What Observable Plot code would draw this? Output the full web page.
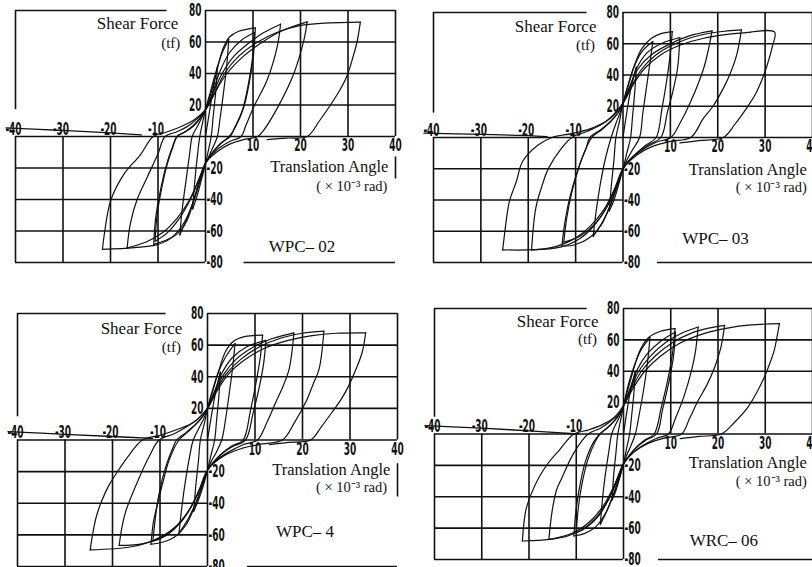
<!DOCTYPE html>
<html><head><meta charset="utf-8">
<script src="https://cdn.jsdelivr.net/npm/d3@7"></script>
<script src="https://cdn.jsdelivr.net/npm/@observablehq/plot@0.6"></script>
<style>
html,body{margin:0;padding:0;background:#fff;}
#wrap{position:relative;width:812px;height:567px;overflow:hidden;background:#fff;}
#wrap svg{position:absolute;}
</style></head><body><div id="wrap"></div>
<script>
// ---- tick values / grid ----
const gridX = [-40, -30, -20, -10, 0, 10, 20, 30, 40];
const gridY = [-80, -60, -40, -20, 0, 20, 40, 60, 80];
const xTickNeg = [-40, -30, -20, -10];
const xTickPos = [10, 20, 30, 40];
const yTickPos = [20, 40, 60, 80];
const yTickNeg = [-20, -40, -60, -80];
const yTitle = ["Shear Force", "(tf)"];
const xTitle = ["Translation Angle", "( × 10⁻³ rad)"];
const specimenNames = ["WPC– 02", "WPC– 03", "WPC– 4", "WRC– 06"];

// ---- hysteresis paths [angle, force] ----
const wpc02 = [[0,0],[0.8,15],[1.6,30],[2.5,44],
[2.2,30],[1.6,12],[1.2,0],[0.6,-9],[0,-17],[-0.9,-28],[-1.8,-38],[-2.7,-46],
[-2.3,-30],[-1.7,-12],[-1.2,0],[-0.6,9],[0,17],
[1,28],[2.2,41],[3.5,53],[4.9,61.6],
[4.5,46],[3.8,28],[3,10],[2.5,0],[1.4,-8],[0.5,-14],[0,-17],[-1.1,-28],[-2.4,-40],[-3.9,-52],[-5.4,-62.5],
[-4.9,-46],[-4.1,-28],[-3.3,-10],[-2.8,0],[-1.6,7],[-0.6,13],[0,17],
[1.2,28],[2.4,42],[3.6,55],[5,63],[7,66.8],[10.5,69],
[10.1,52],[9.2,34],[8,18],[6.3,6],[5,0],[3.4,-4],[1.8,-9],[0.6,-14],[0,-17],[-1.2,-28],[-2.6,-42],[-4,-54],[-6,-62],[-8.5,-66],[-10.9,-68.5],
[-10.5,-52],[-9.6,-36],[-8.4,-20],[-7,-7],[-6,0],[-4.2,3],[-2.4,7],[-1,12],[0,17],
[1.5,28],[3,41],[5,53],[7.5,61],[10.3,66],
[9.9,50],[9,33],[7.8,17],[6.2,6],[5.2,0],[3.5,-3.5],[1.9,-8.5],[0.7,-13.5],[0,-17],[-1.5,-28],[-3.2,-40],[-5.5,-52],[-8,-61],[-10.6,-66.5],
[-10.2,-50],[-9.3,-34],[-8.1,-18],[-6.8,-6],[-6,0],[-4.2,3.2],[-2.4,7.5],[-1,12.5],[0,17],
[1.5,27],[3.5,40],[6,51],[9,59],[12,65.5],[15.8,71.3],
[15.1,57],[13,36],[10.2,19],[8.5,7],[7.5,0],[5.2,-3],[3,-7],[1.2,-12],[0,-17],[-1.5,-28],[-3.5,-41],[-6,-52],[-9,-61],[-12.5,-67],[-16.5,-70.7],
[-15.8,-55],[-14.4,-40],[-12.3,-26],[-10,-11],[-8.5,0],[-6,3],[-3.5,7],[-1.5,12],[0,17],
[2,28],[4.5,40],[8,51],[12,60],[16,67],[21.4,72.8],
[20.7,61],[18.6,40],[15.4,19.6],[12.3,4.2],[11,0],[8,-2],[5,-5],[2.3,-10],[0,-17],[-1.5,-30],[-3,-45],[-5,-57],[-7.5,-65],[-10.5,-69],[-15,-70.5],[-21.7,-71.7],
[-21.2,-60],[-20,-41],[-17.2,-24],[-13.7,-11.6],[-11,0],[-8,3],[-5,6.5],[-2.2,11],[0,17],
[2,28],[4,40],[7,51],[11,60],[15,66],[20,70.5],[25,72],[32.6,72.6],
[31.9,60],[31,50],[29.8,38.6],[28.2,29],[26.3,20],[24,10],[21.4,0],[17,-1],[13,-2]];

const wpc03 = [[0,0],[0.8,16],[1.7,32],[2.8,45],
[2.5,30],[2,13],[1.6,0],[0.8,-10],[0,-20],[-0.9,-30],[-1.9,-40],[-2.9,-47],
[-2.5,-32],[-1.9,-14],[-1.5,0],[-0.7,11],[0,22],
[1,33],[2.3,45],[4,55],[6.3,61.4],
[5.7,48],[5,33],[4.2,16],[3.5,0],[2,-8],[0.8,-14.5],[0,-20],[-1.2,-31],[-2.6,-43],[-4.3,-54],[-6.3,-63.3],
[-5.7,-48],[-4.8,-30],[-3.6,-12],[-2.5,0],[-1.5,9],[-0.6,16],[0,22],
[1.2,34],[2.5,47],[4,57],[6,63.5],[8,66.5],[10.4,67.8],
[10,54],[9.2,36],[8.2,18],[7,0],[4.8,-5],[2.5,-11],[0.9,-16],[0,-20],[-1.3,-31],[-2.8,-44],[-4.6,-56],[-7,-64],[-10,-68.5],[-12.9,-69.7],
[-12.3,-55],[-11.2,-38],[-9.4,-19.6],[-7.8,-7],[-6.6,0],[-4.5,5],[-2.5,10.5],[-1,16],[0,22],
[1.5,33],[3,45],[5,54],[8,60],[12,64],
[11.5,44],[10.4,28],[9.4,16.6],[8,0],[5.5,-4.5],[3,-10],[1.1,-15.5],[0,-20],[-1.5,-32],[-3.3,-44],[-5.8,-55],[-9,-63],[-12.5,-67],
[-11.9,-52],[-10.8,-35],[-9.2,-18],[-7.7,-6],[-7,0],[-4.7,5],[-2.6,10.5],[-1,16],[0,22],
[1.5,33],[3.2,44],[6,53],[10,60],[14,65],[18.8,68.2],
[18,56],[17,44],[14.3,23],[12,9],[10.1,0],[7,-3],[4,-8],[1.5,-14],[0,-20],[-1.6,-32],[-3.5,-45],[-6,-56],[-9,-64.5],[-13,-70],[-19.3,-71.9],
[-18.4,-45],[-17,-30],[-15.7,-19.6],[-13,-7],[-10.8,0],[-7.5,4],[-4.5,8.5],[-2,14],[0,22],
[1.8,33],[4,44],[7,53],[11,60],[15,64.5],[20,67.5],[25,68.9],
[24,52.9],[22.5,40],[21.2,31.6],[19,20],[17,12.4],[14.3,0],[10,-2.5],[6,-6],[3,-11],[0,-20],[-1.8,-33],[-4,-46],[-7,-57],[-11,-66],[-16,-71],[-25.4,-71.9],
[-24.5,-50],[-24,-41],[-22.5,-28],[-21.2,-15.4],[-18,-5],[-15,0],[-10.8,2.5],[-7,5.5],[-3.5,10.5],[0,22],
[2,33],[4.5,44],[8,53],[12,59],[17,63.5],[22,66],[27,67.5],[32,67.4],
[31.5,58],[30.6,48],[29.6,39],[28,28],[26.1,18.8],[23.5,8],[21.2,0],[16,-2],[12,-3.5]];

const wpc4 = [[0,0],[0.8,15],[1.7,30],[2.7,43],
[2.4,28],[1.9,12],[1.5,0],[0.7,-10],[0,-19],[-0.9,-29],[-1.9,-38],[-2.9,-45],
[-2.5,-30],[-1.9,-13],[-1.5,0],[-0.7,10],[0,20],
[1,31],[2.3,43],[3.9,53],[5.8,61],
[5.3,46],[4.6,30],[3.8,13],[3,0],[1.8,-8],[0.7,-14],[0,-19],[-1.1,-29],[-2.5,-40],[-4.1,-50],[-6,-59],
[-5.5,-45],[-4.8,-29],[-3.8,-11],[-3,0],[-1.7,8],[-0.7,14],[0,20],
[1.2,32],[2.5,45],[3.8,56],[5.5,62.5],[8,65.5],[11.6,66.3],
[11.1,52],[10.2,36],[9,18],[7.5,0],[5,-4],[2.7,-9.5],[1,-15],[0,-19],[-1.2,-30],[-2.7,-42],[-4.4,-53],[-6.8,-61],[-9.3,-64.5],[-11.9,-65.9],
[-11.4,-52],[-10.9,-45],[-9.5,-28],[-8,-12],[-6,0],[-4.2,5],[-2.4,10],[-1,15],[0,20],
[1.5,31],[3,42],[5.2,52],[8.3,59],[12.3,63],
[11.8,48],[10.8,32],[9.6,17],[8,0],[5.4,-4],[2.9,-9],[1.1,-14.5],[0,-19],[-1.5,-30],[-3.2,-41],[-5.6,-52],[-8.5,-60],[-11.5,-64],
[-11,-50],[-10.2,-34],[-8.8,-17],[-7.3,-5],[-6.5,0],[-4.4,5],[-2.5,10],[-1,15],[0,20],
[1.5,30],[3.3,41],[6,51],[9.5,58.5],[13.5,64],[18.2,67.8],
[17.2,45],[15.9,34],[14.4,24],[12.5,11],[10.5,0],[7.5,-3],[4.5,-7.5],[1.8,-13],[0,-19],[-1.6,-31],[-3.6,-43],[-6.3,-54],[-9.5,-61.5],[-13.5,-65.5],[-18.6,-66.7],
[-18,-55],[-17.2,-45],[-14.4,-24],[-12.2,-10],[-10.2,0],[-7,4],[-4.3,8.5],[-1.8,14],[0,20],
[1.8,31],[4,42],[7,51],[11,59],[15.5,64.5],[20,67.5],[24.5,68.8],
[23.5,45],[22.2,35],[20.7,24],[18.3,11],[15.8,0],[11.5,-2.5],[7,-5.5],[3.5,-10],[0,-19],[-1.8,-32],[-4,-45],[-7,-55.5],[-11,-63],[-16,-67.5],[-24.7,-69.5],
[-23.5,-49.5],[-22.2,-38],[-20.7,-28.4],[-18.5,-18],[-16.5,-9.5],[-13.7,0],[-10,3],[-6.5,6.5],[-3,11],[0,20],
[2,31],[4.5,42],[8,51],[12,58],[17,63],[22,66],[27,67.5],[33.3,67.8],
[32.6,55.8],[31.3,45],[29.8,34.7],[28.2,26],[26.3,17.9],[24,8.5],[21.7,0],[17,-1.5],[13,-3]];

const wrc06 = [[0,0],[0.7,14],[1.5,28],[2.5,40],
[2.2,26],[1.7,11],[1.3,0],[0.6,-10],[0,-19],[-0.8,-28],[-1.6,-36],[-2.4,-42],
[-2.1,-27],[-1.6,-12],[-1.2,0],[-0.6,9],[0,18],
[0.9,30],[2.1,42],[3.6,53],[5.6,61.4],
[5.1,46],[4.3,29],[3.3,12],[2.5,0],[1.5,-8],[0.6,-14],[0,-19],[-1,-29],[-2.2,-39],[-3.5,-49],[-4.9,-57.6],
[-4.5,-43],[-3.9,-27],[-3.1,-11],[-2.5,0],[-1.5,7],[-0.6,12.5],[0,18],
[1.1,30],[2.3,43],[3.6,54],[5.3,61.5],[7.8,65.5],[10.9,67.2],
[10.4,52],[9.4,35],[8,17],[6.5,0],[4.4,-4],[2.4,-9.5],[0.9,-15],[0,-19],[-1.1,-29],[-2.4,-41],[-3.9,-51],[-6,-59.5],[-8.3,-63.5],[-10.5,-65],
[-10.1,-50],[-9.3,-34],[-8,-17],[-6.3,-5],[-5,0],[-3.4,4],[-1.9,8.5],[-0.8,13],[0,18],
[1.4,29],[2.9,41],[5,51],[7.8,59],[11,65],
[10.6,50],[9.6,33],[8.3,16],[7,0],[4.7,-4],[2.6,-9],[1,-14.5],[0,-19],[-1.4,-30],[-3,-41],[-5.2,-52],[-7.8,-59.5],[-10,-63],
[-9.6,-48],[-8.8,-32],[-7.5,-16],[-6,-5],[-5,0],[-3.4,4],[-1.9,8.5],[-0.8,13],[0,18],
[1.5,29],[3.2,40],[5.8,50],[9,58.5],[12.5,64.5],[15.8,68.2],
[15.2,52],[14.4,40.5],[12.8,24],[11,10],[9.5,0],[6.8,-3],[4,-7.5],[1.6,-13],[0,-19],[-1.5,-30],[-3.3,-42],[-5.7,-53],[-8.5,-60.5],[-11.8,-65],[-15.8,-67.2],
[-15.1,-49],[-14.2,-36],[-13,-27.7],[-10.5,-12],[-7.5,0],[-5,3.5],[-2.8,8],[-1.1,12.5],[0,18],
[1.7,29],[3.8,40],[6.8,50],[10.5,58.5],[14.5,64.5],[18,67.5],[21.4,69.3],
[20.6,55],[19.3,42.6],[17.6,31],[15.8,21.3],[14,10],[12.3,0],[8.8,-2.5],[5.2,-6],[2.2,-11.5],[0,-19],[-1.7,-31],[-3.7,-43],[-6.5,-54],[-10,-62],[-14.5,-66.5],[-21.4,-68.2],
[-20.7,-49],[-19.5,-38],[-17.9,-27.7],[-15.8,-18],[-13.7,-10.7],[-10.5,0],[-7.5,2.5],[-4.8,5.5],[-2.2,10],[0,18],
[2,29],[4.5,40],[8,50],[12,58],[17,64],[22,67.5],[27,69.5],[33,70.4],
[32.5,62],[31.9,53.3],[30.9,44.5],[29.8,36.2],[28.2,26.5],[26.3,17],[23.5,7.5],[20.7,0],[16,-1.5],[12,-3]];

// near-zero residual branch drawn toward -40
const tail02 = [[-42,5.5],[-30,3.8],[-20,2.3],[-13.5,1]];
const tail03 = [[-42,2.8],[-30,2],[-20,1.2],[-16,0.6]];
const tail4 = [[-42,5.3],[-30,3.6],[-20,2.2],[-11.6,1]];
const tail06 = [[-42,5.3],[-30,3.7],[-20,2],[-9.5,0]];

const serif = "Liberation Serif";
const ink = "#111";

const panels = [
  {name: specimenNames[0], data: wpc02, tail: tail02, left: 0, top: 0, width: 406, height: 284, ml: 15, mr: 11, mt: 10, mb: 22,
   sf: [-5.7, 71.5], tf: [-5.3, 59], ta: [38.5, -19], rad: [38.3, -31.6], nm: [13.3, -69.6], topEnd: -8.1, leftEnd: 17, botStart: 8.1, rightSeg: [-13, -27]},
  {name: specimenNames[1], data: wpc03, tail: tail03, left: 406, top: 0, width: 420, height: 284, ml: 27, mr: 14, mt: 12, mb: 22,
   sf: [-5.6, 71.2], tf: [-5.9, 59.4], ta: [38.8, -20.8], rad: [38.8, -32], nm: [12.5, -64.4], topEnd: -7.6, leftEnd: 15.6, botStart: 7.3, rightSeg: null},
  {name: specimenNames[2], data: wpc4, tail: tail4, left: 0, top: 284, width: 406, height: 284, ml: 17, mr: 9, mt: 29, mb: 2,
   sf: [-5.3, 70.7], tf: [-5.6, 58.9], ta: [38.5, -18.6], rad: [37.8, -30], nm: [14.4, -57.9], topEnd: -8.7, leftEnd: 14.7, botStart: 8.4, rightSeg: [-15, -36]},
  {name: specimenNames[3], data: wrc06, tail: tail06, left: 406, top: 284, width: 420, height: 284, ml: 28, mr: 14, mt: 24, mb: 9,
   sf: [-5.3, 71.6], tf: [-5.6, 60.6], ta: [38.8, -18.1], rad: [38.8, -30.4], nm: [14, -68], topEnd: -7.7, leftEnd: 10.7, botStart: 7.4, rightSeg: null}
];

// split a continuous path into branches at its load peaks (sharp reversals)
function branches(path) {
  const out = [];
  let seg = 0;
  path.forEach((d, i) => {
    out.push({x: d[0], y: d[1], seg});
    const prev = path[i - 1], next = path[i + 1];
    if (prev && next && Math.abs(d[1]) > 30 && Math.abs(d[1]) >= Math.abs(prev[1]) && Math.abs(d[1]) >= Math.abs(next[1])) {
      seg++;
      out.push({x: d[0], y: d[1], seg});
    }
  });
  return out;
}

const wrap = document.getElementById("wrap");
const gs = {stroke: ink, strokeWidth: 1.6};
const tickFont = {fontFamily: "DejaVu Sans", fontWeight: "bold", fontSize: 18, fill: ink};

for (const p of panels) {
  const svg = Plot.plot({
    width: p.width, height: p.height,
    marginLeft: p.ml, marginRight: p.mr, marginTop: p.mt, marginBottom: p.mb,
    style: {background: "transparent", overflow: "visible"},
    x: {domain: [-40, 40], axis: null},
    y: {domain: [-80, 80], axis: null},
    marks: [
      Plot.ruleX(gridX.filter(d => d >= 0), {y1: 0, y2: 80, ...gs}),
      Plot.ruleY(gridY.filter(d => d >= 0), {x1: 0, x2: 40, ...gs}),
      Plot.ruleX(gridX.filter(d => d <= 0), {y1: -80, y2: 0, ...gs}),
      Plot.ruleY(gridY.filter(d => d <= 0), {x1: -40, x2: 0, ...gs}),
      Plot.ruleY([80], {x1: -40, x2: p.topEnd, ...gs}),
      Plot.ruleX([-40], {y1: p.leftEnd, y2: 80, ...gs}),
      Plot.ruleY([-80], {x1: p.botStart, x2: 40, ...gs}),
      p.rightSeg ? Plot.ruleX([40], {y1: p.rightSeg[0], y2: p.rightSeg[1], ...gs}) : null,
      Plot.line(p.tail, {x: d => d[0], y: d => d[1], curve: "catmull-rom", stroke: ink, strokeWidth: 1.3}),
      Plot.line(branches(p.data), {x: "x", y: "y", z: "seg", curve: "catmull-rom", stroke: ink, strokeWidth: 1.2}),
      Plot.text(yTickPos, {x: 0, y: d => d, text: d => String(d), textAnchor: "end", dx: -4, ...tickFont}),
      Plot.text(yTickNeg, {x: 0, y: d => d, text: d => String(d), textAnchor: "start", dx: 1, ...tickFont}),
      Plot.text(xTickNeg, {x: d => d, y: 0, text: d => String(d), lineAnchor: "bottom", dy: -2, dx: -2, ...tickFont}),
      Plot.text(xTickPos, {x: d => d, y: 0, text: d => String(d), lineAnchor: "top", dy: 2, ...tickFont}),
      Plot.text([yTitle[0]], {x: p.sf[0], y: p.sf[1], text: d => d, textAnchor: "end", fontFamily: serif, fontSize: 17, fill: ink}),
      Plot.text([yTitle[1]], {x: p.tf[0], y: p.tf[1], text: d => d, textAnchor: "end", fontFamily: serif, fontSize: 15, fill: ink}),
      Plot.text([xTitle[0]], {x: p.ta[0], y: p.ta[1], text: d => d, textAnchor: "end", fontFamily: serif, fontSize: 16.5, fill: ink}),
      Plot.text([xTitle[1]], {x: p.rad[0], y: p.rad[1], text: d => d, textAnchor: "end", fontFamily: serif, fontSize: 14.5, fill: ink}),
      Plot.text([p.name], {x: p.nm[0], y: p.nm[1], text: d => d, textAnchor: "start", fontFamily: serif, fontSize: 17, fill: ink})
    ]
  });
  svg.style.left = p.left + "px";
  svg.style.top = p.top + "px";
  // condensed tick digits
  svg.querySelectorAll('g[font-family="DejaVu Sans"] text').forEach(t => {
    const tr = t.getAttribute("transform");
    if (tr && tr.includes("translate")) t.setAttribute("transform", tr + " scale(0.5,1)");
  });
  wrap.appendChild(svg);
}
</script>
</body></html>
